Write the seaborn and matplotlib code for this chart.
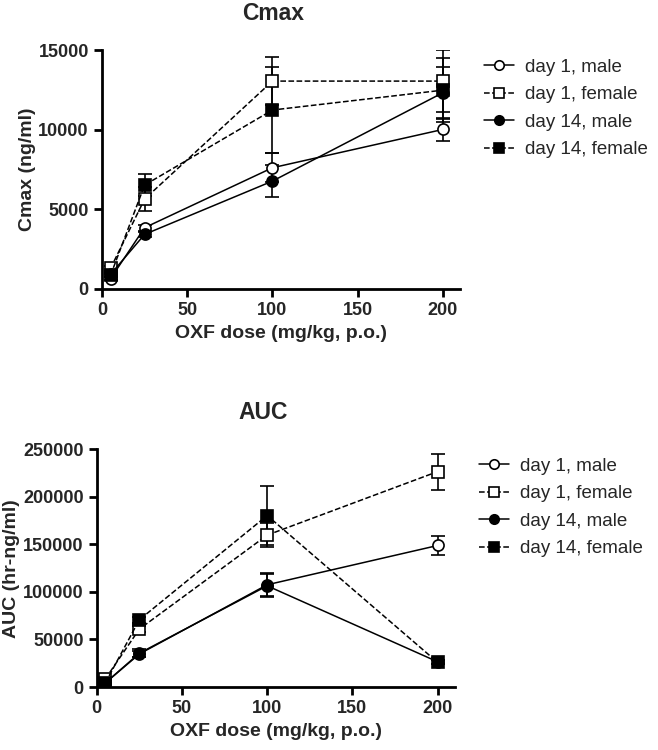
import numpy as np
import pandas as pd
import matplotlib
matplotlib.use("Agg")
import matplotlib.pyplot as plt
import seaborn as sns

sns.set_style("ticks")
plt.rcParams['font.family'] = ['Liberation Sans', 'DejaVu Sans']

doses = [5, 25, 100, 200]
labels = ["day 1, male", "day 1, female", "day 14, male", "day 14, female"]

# Cmax (ng/ml), mean and error
cmax_d1_male = [630, 3840, 7610, 10020]
cmax_d1_male_err = [100, 200, 900, 700]
cmax_d1_female = [1280, 5640, 13060, 13060]
cmax_d1_female_err = [150, 750, 1530, 1950]
cmax_d14_male = [900, 3420, 6770, 12330]
cmax_d14_male_err = [100, 150, 1000, 1630]
cmax_d14_female = [840, 6520, 11240, 12490]
cmax_d14_female_err = [100, 700, 2700, 2000]

# AUC (hr-ng/ml), mean and error
auc_d1_male = [4200, 34700, 107500, 148800]
auc_d1_male_err = [500, 3000, 12000, 10500]
auc_d1_female = [8400, 60900, 159700, 226500]
auc_d1_female_err = [800, 3000, 13000, 19000]
auc_d14_male = [4200, 35500, 106400, 26500]
auc_d14_male_err = [500, 4000, 12000, 2000]
auc_d14_female = [4200, 70700, 180300, 25900]
auc_d14_female_err = [500, 3000, 31500, 2000]

styles = [
    dict(marker='o', markerfacecolor='white', linestyle='-'),
    dict(marker='s', markerfacecolor='white', linestyle='--'),
    dict(marker='o', markerfacecolor='black', linestyle='-'),
    dict(marker='s', markerfacecolor='black', linestyle='--'),
]


def draw_panel(ax, series, errs, title, title_x, ylabel, ymax, yticks):
    for vals, err, lab, st in zip(series, errs, labels, styles):
        ax.errorbar(doses, vals, yerr=err, fmt='none', ecolor='black',
                    elinewidth=1.2, capsize=5, capthick=1.2, zorder=2)
        df = pd.DataFrame({'dose': doses, 'val': vals})
        sns.lineplot(data=df, x='dose', y='val', ax=ax, color='black',
                     linewidth=1.1, markersize=8, markeredgecolor='black',
                     markeredgewidth=1.2, label=lab, zorder=3,
                     dashes=False, **st)
    ax.set_xlim(0, 210)
    ax.set_ylim(0, ymax)
    ax.set_xticks([0, 50, 100, 150, 200])
    ax.set_yticks(yticks)
    ax.set_title(title, fontsize=16.5, fontweight='bold', pad=22, x=title_x)
    ax.set_xlabel("OXF dose (mg/kg, p.o.)", fontsize=14, fontweight='bold')
    ax.set_ylabel(ylabel, fontsize=14, fontweight='bold', labelpad=2)
    for t in ax.get_xticklabels() + ax.get_yticklabels():
        t.set_fontweight('bold')
        t.set_fontsize(13)
    ax.tick_params(width=2, length=6, color='black')
    for s in ['left', 'bottom']:
        ax.spines[s].set_linewidth(2)
        ax.spines[s].set_color('black')
    sns.despine(ax=ax)
    leg = ax.legend(loc='upper left', bbox_to_anchor=(1.02, 1.035),
                    frameon=False, fontsize=13.5, handlelength=1.6,
                    handletextpad=0.6, labelspacing=0.55, markerscale=0.85)


fig = plt.figure(figsize=(6.58, 7.5), dpi=100)
ax1 = fig.add_axes([0.155, 0.615, 0.544, 0.318])
ax2 = fig.add_axes([0.147, 0.084, 0.544, 0.317])

draw_panel(ax1,
           [cmax_d1_male, cmax_d1_female, cmax_d14_male, cmax_d14_female],
           [cmax_d1_male_err, cmax_d1_female_err, cmax_d14_male_err, cmax_d14_female_err],
           "Cmax", 0.478, "Cmax (ng/ml)", 15000, [0, 5000, 10000, 15000])
draw_panel(ax2,
           [auc_d1_male, auc_d1_female, auc_d14_male, auc_d14_female],
           [auc_d1_male_err, auc_d1_female_err, auc_d14_male_err, auc_d14_female_err],
           "AUC", 0.464, "AUC (hr-ng/ml)", 250000,
           [0, 50000, 100000, 150000, 200000, 250000])

fig.savefig("out.png", dpi=100)
